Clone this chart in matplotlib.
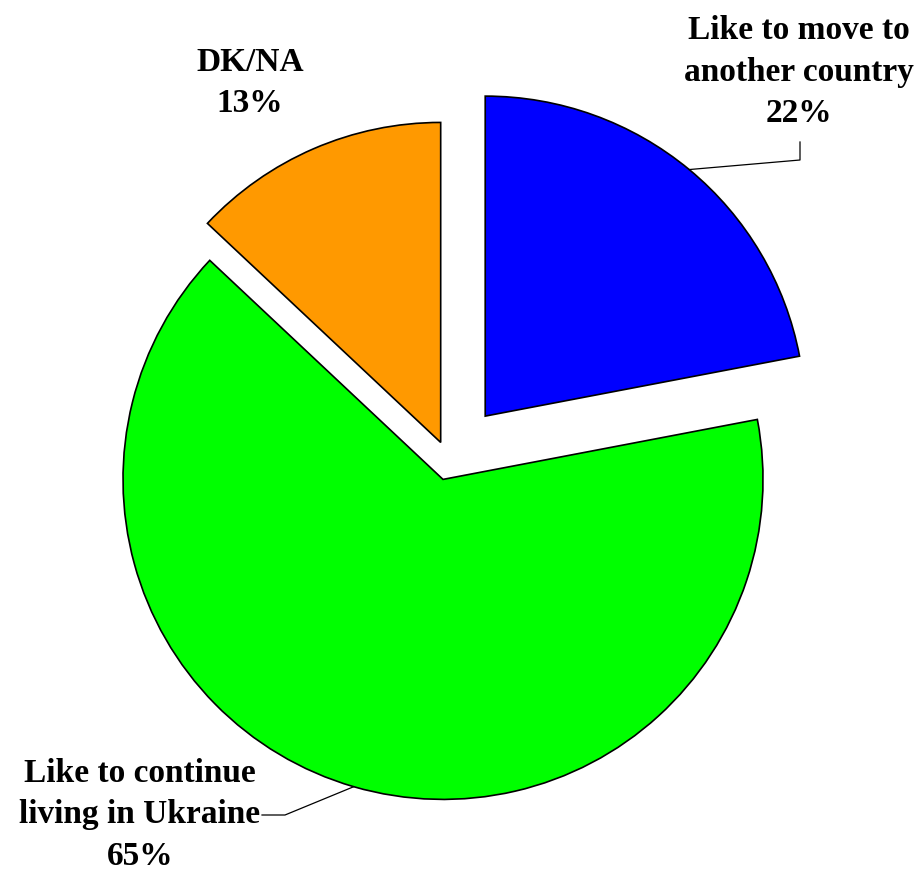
import numpy as np
import matplotlib
matplotlib.use("Agg")
import matplotlib.pyplot as plt

# Data
categories = ["Like to move to\nanother country", "Like to continue\nliving in Ukraine", "DK/NA"]
values = [22, 65, 13]
colors = ["#0000FF", "#00FF00", "#FF9900"]
explode = [0.18, 0.0615, 0.0615]

W, H = 917, 872
fig = plt.figure(figsize=(W / 100, H / 100), dpi=100)
ax = fig.add_axes([0, 0, 1, 1])
R = 320.0
cx, cy = 448.5, 460.5

wedges, _ = ax.pie(values, colors=colors, explode=explode, startangle=90,
                   counterclock=False, radius=1.0,
                   wedgeprops=dict(edgecolor="black", linewidth=1.2))

ax.set_xlim(-cx / R, (W - cx) / R)
ax.set_ylim(-(H - cy) / R, cy / R)
ax.set_aspect("equal")
ax.axis("off")


def P(px, py):
    return ((px - cx) / R, (cy - py) / R)


font = dict(family=["Liberation Serif", "DejaVu Serif"], fontweight="bold",
            fontsize=24, ha="center", va="center", linespacing=1.45)

# label positions (pixel-space of the reference)
label_pos = [(799, 72), (140, 815), (250, 83)]
for cat, val, (px, py) in zip(categories, values, label_pos):
    x, y = P(px, py)
    ax.text(x, y, f"{cat}\n{val}%", **font)


def arc_mid(w):
    a = np.deg2rad((w.theta1 + w.theta2) / 2)
    return w.center[0] + w.r * np.cos(a), w.center[1] + w.r * np.sin(a)

# leader lines
bx, by = arc_mid(wedges[0])
e1 = P(800, 160)
e2 = P(800, 142)
ax.plot([bx, e1[0], e2[0]], [by, e1[1], e2[1]], color="black", lw=0.9)

gx, gy = arc_mid(wedges[1])
f1 = P(285, 815)
f2 = P(262, 815)
ax.plot([gx, f1[0], f2[0]], [gy, f1[1], f2[1]], color="black", lw=0.9)

fig.savefig("out.png", dpi=100)
